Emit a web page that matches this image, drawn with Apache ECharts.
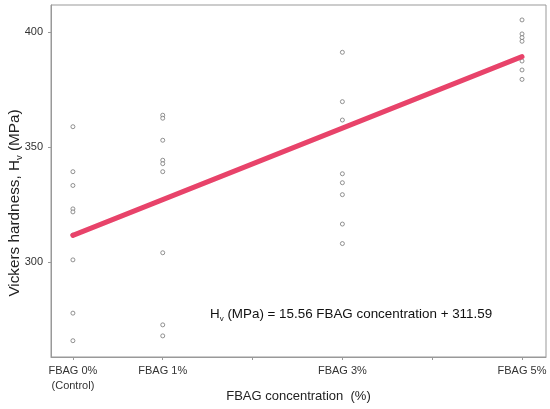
<!DOCTYPE html>
<html>
<head>
<meta charset="utf-8">
<script src="https://cdn.jsdelivr.net/npm/echarts@6/dist/echarts.min.js"></script>
<style>html,body{margin:0;padding:0;background:#fff}#c{width:550px;height:409px}</style>
</head>
<body>
<div id="c"></div>
<script>
// Category positions on the concentration axis (%)
const concentrations = [0, 1, 3, 5];
const tickLabels = ['FBAG 0%\n(Control)', 'FBAG 1%', '', 'FBAG 3%', '', 'FBAG 5%'];
const tickValuesX = [0, 1, 2, 3, 4, 5];
const tickValuesY = [300, 350, 400];
// Measured hardness values (MPa)
const hv0 = [358.9, 339.3, 333.3, 323.1, 321.8, 311.7, 300.9, 277.7, 265.7];
const hv1 = [363.9, 362.6, 353.0, 344.3, 342.8, 339.3, 304.0, 272.6, 267.8];
const hv3 = [391.3, 369.8, 361.8, 338.4, 334.5, 329.3, 316.5, 308.0];
const hv5 = [405.4, 399.3, 397.7, 396.1, 387.5, 383.6, 379.5];
// Regression line endpoints
const fitX = [0, 5];
const fitY = [311.59, 389.39];

const groups = [hv0, hv1, hv3, hv5];
const points = [];
groups.forEach((g, i) => g.forEach(v => points.push([concentrations[i], v])));
const fitData = fitX.map((x, i) => [x, fitY[i]]);

const font = '"Liberation Sans", Arial, Helvetica, sans-serif';
const chart = echarts.init(document.getElementById('c'), null, {renderer: 'canvas'});
chart.setOption({
  animation: false,
  backgroundColor: '#fff',
  textStyle: {fontFamily: font},
  grid: {left: 51, right: 4, top: 5, bottom: 52, show: true, borderColor: '#999', borderWidth: 1,
         containLabel: false, outerBoundsMode: 'none'},
  xAxis: {
    type: 'value', min: -0.244, max: 5.267,
    name: 'FBAG concentration  (%)', nameLocation: 'middle', nameGap: 33, nameMoveOverlap: false,
    nameTextStyle: {fontSize: 13, color: '#222', fontFamily: font},
    axisLine: {show: true, onZero: false, lineStyle: {color: '#999'}},
    axisTick: {show: true, length: 3, lineStyle: {color: '#999'}, customValues: tickValuesX},
    axisLabel: {
      show: true, margin: 6, fontSize: 11, color: '#333', lineHeight: 15, fontFamily: font,
      customValues: tickValuesX,
      formatter: v => tickLabels[tickValuesX.indexOf(Math.round(v))] || ''
    },
    splitLine: {show: false}
  },
  yAxis: {
    type: 'value', min: 258.6, max: 411.9,
    axisLine: {show: true, onZero: false, lineStyle: {color: '#999'}},
    axisTick: {show: true, length: 3, lineStyle: {color: '#999'}, customValues: tickValuesY},
    axisLabel: {show: true, margin: 8, fontSize: 11, color: '#333', fontFamily: font, customValues: tickValuesY},
    splitLine: {show: false}
  },
  series: [
    {
      type: 'scatter', data: points, symbol: 'circle', symbolSize: 4,
      itemStyle: {color: '#fff', borderColor: '#777', borderWidth: 1}, z: 2
    },
    {
      type: 'line', data: fitData, symbol: 'none',
      lineStyle: {color: '#E8436A', width: 5, cap: 'round'}, z: 3
    }
  ],
  graphic: [
    {
      type: 'text', x: 15, y: 203, rotation: Math.PI / 2, z: 10,
      style: {
        text: '{a|Vickers hardness, H}{s|v}{a| (MPa)}',
        align: 'center', verticalAlign: 'middle',
        fontFamily: font,
        rich: {
          a: {fontSize: 15.3, fill: '#222', fontFamily: font, lineHeight: 18},
          s: {fontSize: 9.5, fill: '#222', fontFamily: font, verticalAlign: 'bottom', lineHeight: 10, padding: [7, 0, 0, 0]}
        }
      }
    },
    {
      type: 'text', left: 210, top: 308, z: 10,
      style: {
        text: '{a|H}{s|v}{a| (MPa) = 15.56 FBAG concentration + 311.59}',
        fontFamily: font,
        rich: {
          a: {fontSize: 13.4, fill: '#111', fontFamily: font, lineHeight: 16},
          s: {fontSize: 8, fill: '#111', fontFamily: font, verticalAlign: 'bottom', lineHeight: 10, padding: [6, 0, 0, 0]}
        }
      }
    }
  ]
});
</script>
</body>
</html>
